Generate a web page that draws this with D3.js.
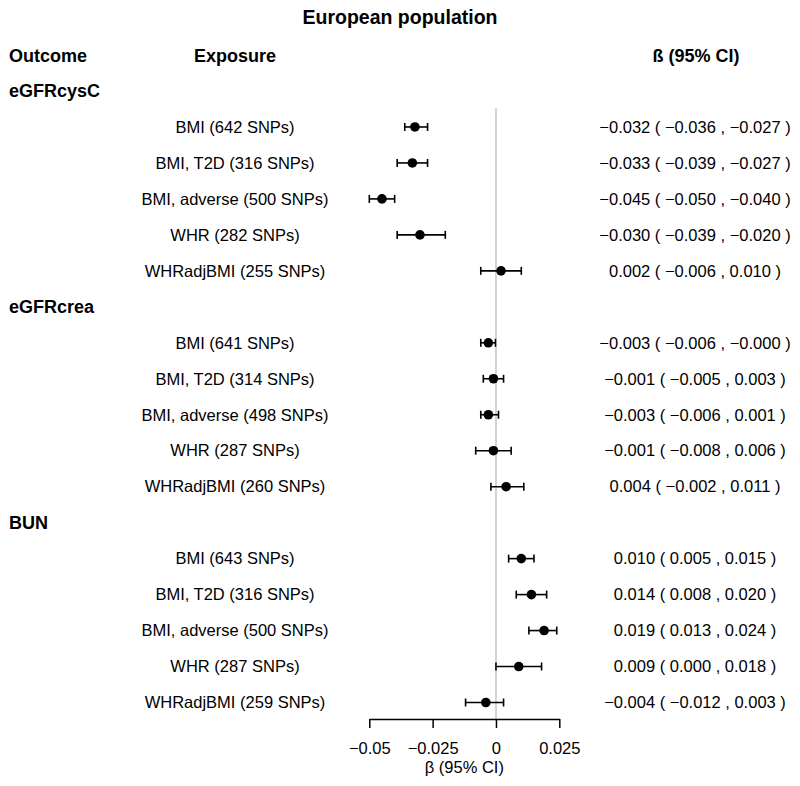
<!DOCTYPE html>
<html>
<head>
<meta charset="utf-8">
<script src="https://cdn.jsdelivr.net/npm/d3@7"></script>
<style>
  html, body { margin: 0; padding: 0; background: #fff; }
  svg text { font-family: "Liberation Sans", Arial, Helvetica, sans-serif; fill: #000; }
</style>
</head>
<body>
<svg id="chart" width="800" height="786"></svg>
<script>
// ---- Data ----
const outcomes = ["eGFRcysC", "eGFRcrea", "BUN"];
const exposures = [
  ["BMI (642 SNPs)", "BMI, T2D (316 SNPs)", "BMI, adverse (500 SNPs)", "WHR (282 SNPs)", "WHRadjBMI (255 SNPs)"],
  ["BMI (641 SNPs)", "BMI, T2D (314 SNPs)", "BMI, adverse (498 SNPs)", "WHR (287 SNPs)", "WHRadjBMI (260 SNPs)"],
  ["BMI (643 SNPs)", "BMI, T2D (316 SNPs)", "BMI, adverse (500 SNPs)", "WHR (287 SNPs)", "WHRadjBMI (259 SNPs)"]
];
const beta = [
  [-0.032, -0.033, -0.045, -0.030, 0.002],
  [-0.003, -0.001, -0.003, -0.001, 0.004],
  [0.010, 0.014, 0.019, 0.009, -0.004]
];
const ciLow = [
  [-0.036, -0.039, -0.050, -0.039, -0.006],
  [-0.006, -0.005, -0.006, -0.008, -0.002],
  [0.005, 0.008, 0.013, 0.000, -0.012]
];
const ciHigh = [
  [-0.027, -0.027, -0.040, -0.020, 0.010],
  [-0.0002, 0.003, 0.001, 0.006, 0.011],
  [0.015, 0.020, 0.024, 0.018, 0.003]
];
const xTicks = [-0.05, -0.025, 0, 0.025];
const xTickLabels = ["\u22120.05", "\u22120.025", "0", "0.025"];
const titleText = "European population";
const headers = ["Outcome", "Exposure", "\u00DF (95% CI)"];
const xAxisLabel = "\u03B2 (95% CI)";

// ---- Layout ----
const svg = d3.select("#chart");
const x = d3.scaleLinear().domain([-0.05, 0.025]).range([369.3, 559.3]);

const rows = [];
outcomes.forEach((o, gi) => {
  rows.push({type: "group", label: o});
  exposures[gi].forEach((e, j) => {
    rows.push({type: "item", label: e, b: beta[gi][j], lo: ciLow[gi][j], hi: ciHigh[gi][j]});
  });
});
const y = d3.scaleLinear().domain([0, rows.length - 1]).range([91, 702.5]);

const fmt = v => (v < 0 ? "\u2212" : "") + Math.abs(v).toFixed(3);

// Title
svg.append("text").attr("x", 400).attr("y", 23.5).attr("text-anchor", "middle")
  .attr("font-size", 19.5).attr("font-weight", "bold").text(titleText);

// Headers
const hy = 56;
svg.append("text").attr("x", 9).attr("y", hy).attr("dy", "0.35em")
  .attr("font-size", 18).attr("font-weight", "bold").text(headers[0]);
svg.append("text").attr("x", 235).attr("y", hy).attr("dy", "0.35em").attr("text-anchor", "middle")
  .attr("font-size", 18).attr("font-weight", "bold").text(headers[1]);
svg.append("text").attr("x", 696).attr("y", hy).attr("dy", "0.35em").attr("text-anchor", "middle")
  .attr("font-size", 18).attr("font-weight", "bold").text(headers[2]);

// Zero reference line
svg.append("line").attr("x1", x(0)).attr("x2", x(0)).attr("y1", 108).attr("y2", 719)
  .attr("stroke", "#d3d3d3").attr("stroke-width", 2);

// Rows
rows.forEach((r, i) => {
  const yy = y(i);
  if (r.type === "group") {
    svg.append("text").attr("x", 9).attr("y", yy).attr("dy", "0.35em")
      .attr("font-size", 18).attr("font-weight", "bold").text(r.label);
  } else {
    svg.append("text").attr("x", 235).attr("y", yy).attr("dy", "0.35em").attr("text-anchor", "middle")
      .attr("font-size", 16.5).text(r.label);
    svg.append("text").attr("x", 695).attr("y", yy).attr("dy", "0.35em").attr("text-anchor", "middle")
      .attr("font-size", 16.5).text(`${fmt(r.b)} ( ${fmt(r.lo)} , ${fmt(r.hi)} )`);
    const g = svg.append("g").attr("stroke", "#000").attr("stroke-width", 1.6);
    g.append("line").attr("x1", x(r.lo)).attr("x2", x(r.hi)).attr("y1", yy).attr("y2", yy);
    g.append("line").attr("x1", x(r.lo)).attr("x2", x(r.lo)).attr("y1", yy - 4).attr("y2", yy + 4);
    g.append("line").attr("x1", x(r.hi)).attr("x2", x(r.hi)).attr("y1", yy - 4).attr("y2", yy + 4);
    svg.append("circle").attr("cx", x(r.b)).attr("cy", yy).attr("r", 4.8).attr("fill", "#000");
  }
});

// Axis
const axisG = svg.append("g").attr("transform", "translate(0,719)");
const axis = d3.axisBottom(x).tickValues(xTicks).tickSize(9).tickSizeOuter(0)
  .tickFormat((d, i) => xTickLabels[i]);
axisG.call(axis);
axisG.select(".domain").attr("stroke", "#000").attr("stroke-width", 1.5);
axisG.selectAll(".tick line").attr("stroke", "#000").attr("stroke-width", 1.5);
axisG.selectAll(".tick text").attr("font-size", 16.5).attr("font-family", "Liberation Sans, Arial, sans-serif")
  .attr("fill", "#000").attr("y", 23);

svg.append("text").attr("x", (x(-0.05) + x(0.025)) / 2).attr("y", 767).attr("dy", "0.35em")
  .attr("text-anchor", "middle").attr("font-size", 16.5).text(xAxisLabel);
</script>
</body>
</html>
